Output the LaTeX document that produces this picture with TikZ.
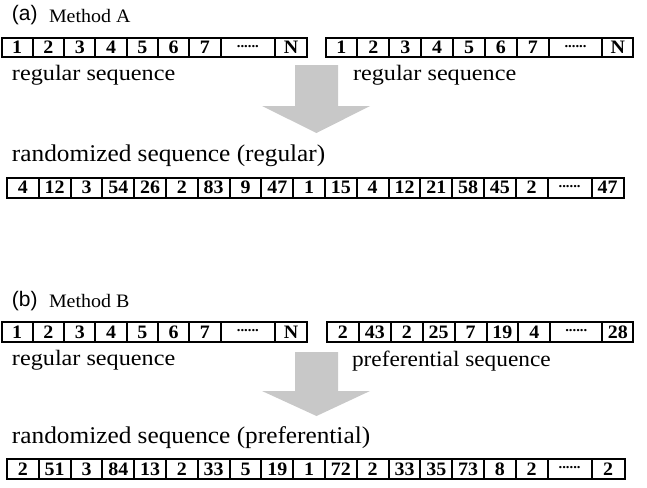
\documentclass[tikz,border=0pt]{standalone}
\usepackage{fontspec}
\usepackage{graphicx}
\setmainfont{Liberation Serif}
\newfontfamily\labfont{Liberation Sans}
\definecolor{arrowgray}{RGB}{200,200,200}
\newcommand\cellfont{\fontsize{19}{19}\selectfont\bfseries}
\newcommand\celltxt[1]{\scalebox{1.05}[1]{#1}}
\newcommand\dotsx{\raisebox{2.5pt}{\fontsize{14}{14}\selectfont\bfseries......}}
\newcommand\seqrow[5]{%
  \node[inner sep=0pt, outer sep=0pt, minimum size=0pt] (#1-0) at (#2,#3) {};
  \foreach \w/\lab [count=\i, remember=\i as \j (initially 0)] in {#5} {
    \node[cell, minimum width=\w pt, minimum height=#4pt] (#1-\i) at (#1-\j.east) {\celltxt{\lab}};
  }%
}
\begin{document}
\begin{tikzpicture}[x=1pt,y=-1pt,
  cell/.style={draw, line width=2pt, outer sep=0pt, inner sep=0pt, anchor=west, font=\cellfont},
  lbl/.style={anchor=base west, inner sep=0pt, outer sep=0pt},
  bigarrow/.style={fill=arrowgray, draw=none}]
\useasboundingbox (0,0) rectangle (647,487);

% (a) Method A
\node[lbl, font=\labfont\fontsize{21}{21}\selectfont] (tagA) at (12,21) {(a)};
\node[lbl, font=\fontsize{19}{19}\selectfont] (methA) at (49,22.5) {\scalebox{1.05}[1]{Method A}};

\seqrow{ra}{1.5}{47.5}{19.5}{31.3/1,31.3/2,31.3/3,31.3/4,31.3/5,31.3/6,31.3/7,54.5/\dotsx,31.9/N}
\seqrow{rb}{325.5}{47.5}{19.5}{31.9/1,31.9/2,31.9/3,31.9/4,31.9/5,31.9/6,31.9/7,53.5/\dotsx,31/N}

\node[lbl, font=\fontsize{22}{22}\selectfont] (regA1) at (12,80) {\scalebox{1.1}[1]{regular sequence}};
\node[lbl, font=\fontsize{22}{22}\selectfont] (regA2) at (353,80) {\scalebox{1.1}[1]{regular sequence}};

\fill[bigarrow] (295,65) -- (338,65) -- (338,106) -- (370,106) -- (316.5,133) -- (262,106) -- (295,106) -- cycle;

\node[lbl, font=\fontsize{24}{24}\selectfont] (randA) at (12,161) {\scalebox{1.054}[1]{randomized sequence (regular)}};

\seqrow{rc}{7}{187.5}{20}{31.8/4,31.8/12,31.8/3,31.8/54,31.8/26,31.8/2,31.8/83,31.8/9,31.8/47,31.8/1,31.8/15,31.8/4,31.8/12,31.8/21,31.8/58,31.8/45,31.8/2,44/\dotsx,32/47}

% (b) Method B
\node[lbl, font=\labfont\fontsize{21}{21}\selectfont] (tagB) at (12,306) {(b)};
\node[lbl, font=\fontsize{19}{19}\selectfont] (methB) at (49,307.5) {\scalebox{1.05}[1]{Method B}};

\seqrow{rd}{1.5}{332}{19.5}{31.3/1,31.3/2,31.3/3,31.3/4,31.3/5,31.3/6,31.3/7,54.5/\dotsx,31.9/N}
\seqrow{re}{327}{332}{19.5}{31.9/2,31.9/43,31.9/2,31.9/25,31.9/7,31.9/19,31.9/4,52/\dotsx,31/28}

\node[lbl, font=\fontsize{22}{22}\selectfont] (regB) at (12,365) {\scalebox{1.1}[1]{regular sequence}};
\node[lbl, font=\fontsize{22}{22}\selectfont] (prefB) at (352,366) {\scalebox{1.06}[1]{preferential sequence}};

\fill[bigarrow] (295,352) -- (338,352) -- (338,391) -- (370,391) -- (316.5,416) -- (262,391) -- (295,391) -- cycle;

\node[lbl, font=\fontsize{24}{24}\selectfont] (randB) at (12,443) {\scalebox{1.054}[1]{randomized sequence (preferential)}};

\seqrow{rf}{7}{469}{19.5}{31.8/2,31.8/51,31.8/3,31.8/84,31.8/13,31.8/2,31.8/33,31.8/5,31.8/19,31.8/1,31.8/72,31.8/2,31.8/33,31.8/35,31.8/73,31.8/8,31.8/2,44/\dotsx,33/2}
\end{tikzpicture}
\end{document}
